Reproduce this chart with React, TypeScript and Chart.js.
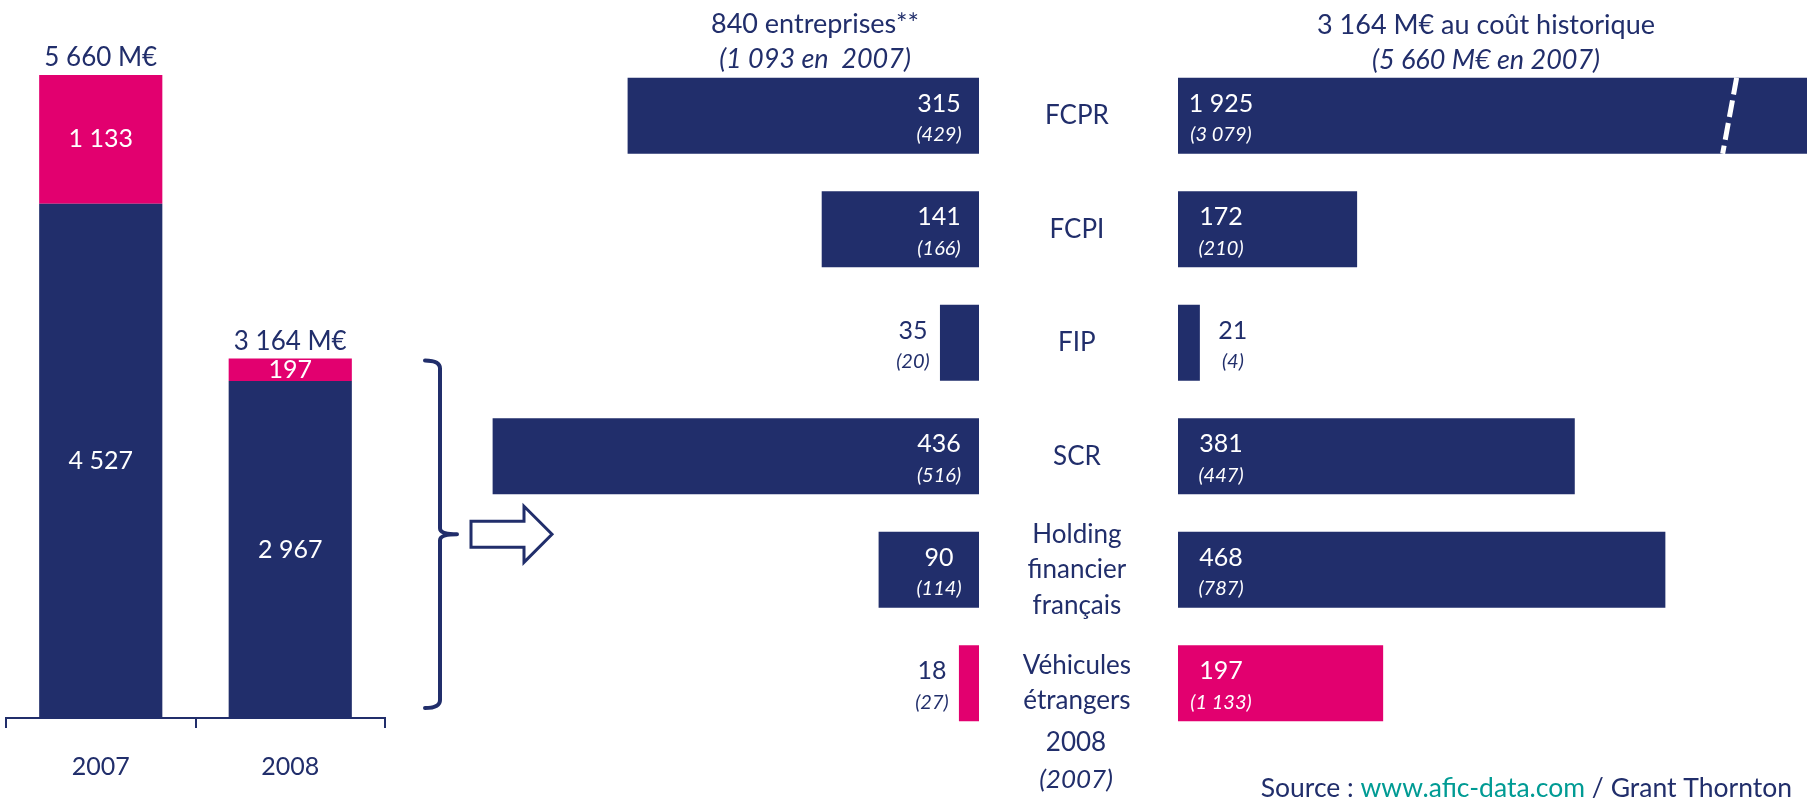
import React, { useEffect, useRef } from 'react';
import { Chart, registerables } from 'chart.js';

Chart.register(...registerables);

const W = 1816;
const H = 799;
const NAVY = '#212E6B';
const PINK = '#E2006F';
const TEAL = '#009B94';
const FONT = 'Lato';

// ---- data ----
const years = ['2007', '2008'];
const domesticAmounts = [4527, 2967];
const foreignAmounts = [1133, 197];

const vehicleTypes = [
  ['FCPR'],
  ['FCPI'],
  ['FIP'],
  ['SCR'],
  ['Holding', 'financier', 'français'],
  ['Véhicules', 'étrangers'],
];
const foreignFlags = [false, false, false, false, false, true];
const companies2008 = [315, 141, 35, 436, 90, 18];
const companies2007 = [429, 166, 20, 516, 114, 27];
const amounts2008 = [1925, 172, 21, 381, 468, 197];
const amounts2007 = [3079, 210, 4, 447, 787, 1133];

const companiesTitle = ['840 entreprises**', '(1 093 en  2007)'];
const amountsTitle = ['3 164 M€ au coût historique', '(5 660 M€ en 2007)'];
const keyLabels = ['2008', '(2007)'];
const sourceParts: [string, string][] = [
  ['Source : ', NAVY],
  ['www.afic-data.com', TEAL],
  [' / Grant Thornton', NAVY],
];

const fmt = (n: number) => String(n).replace(/\B(?=(\d{3})+(?!\d))/g, ' ');
const barColors = foreignFlags.map((f) => (f ? PINK : NAVY));

Chart.defaults.font.family = FONT;

// ---- plugins ----
const stackPlugin = {
  id: 'stackPlugin',
  afterDatasetsDraw(chart: any) {
    const ctx = chart.ctx;
    ctx.save();
    ctx.textAlign = 'center';
    ctx.textBaseline = 'middle';
    ctx.font = `25px ${FONT}`;
    chart.data.datasets.forEach((ds: any, di: number) => {
      const meta = chart.getDatasetMeta(di);
      meta.data.forEach((bar: any, i: number) => {
        ctx.fillStyle = '#ffffff';
        ctx.fillText(fmt(ds.data[i]), bar.x, (bar.y + bar.base) / 2);
      });
    });
    ctx.font = `26px ${FONT}`;
    const topMeta = chart.getDatasetMeta(chart.data.datasets.length - 1);
    topMeta.data.forEach((bar: any, i: number) => {
      ctx.fillStyle = NAVY;
      ctx.fillText(`${fmt(domesticAmounts[i] + foreignAmounts[i])} M€`, bar.x, bar.y - 17);
    });

    // bracket
    const xs = chart.scales.x;
    const ys = chart.scales.y;
    const bx = xs.right + 55;
    const yTop = ys.getPixelForValue(domesticAmounts[1] + foreignAmounts[1]) + 2;
    const yBot = ys.getPixelForValue(0) - 10;
    const yMid = (yTop + yBot) / 2;
    ctx.strokeStyle = NAVY;
    ctx.lineWidth = 4;
    ctx.lineCap = 'round';
    ctx.lineJoin = 'round';
    ctx.beginPath();
    ctx.moveTo(bx - 15, yTop);
    ctx.quadraticCurveTo(bx, yTop, bx, yTop + 8);
    ctx.lineTo(bx, yMid - 6);
    ctx.quadraticCurveTo(bx, yMid, bx + 17, yMid);
    ctx.moveTo(bx + 17, yMid);
    ctx.quadraticCurveTo(bx, yMid, bx, yMid + 6);
    ctx.lineTo(bx, yBot - 8);
    ctx.quadraticCurveTo(bx, yBot, bx - 15, yBot);
    ctx.stroke();

    // hollow arrow
    const ax = bx + 31;
    ctx.beginPath();
    ctx.moveTo(ax, yMid - 13);
    ctx.lineTo(ax + 53, yMid - 13);
    ctx.lineTo(ax + 53, yMid - 28);
    ctx.lineTo(ax + 81, yMid);
    ctx.lineTo(ax + 53, yMid + 28);
    ctx.lineTo(ax + 53, yMid + 13);
    ctx.lineTo(ax, yMid + 13);
    ctx.closePath();
    ctx.fillStyle = '#ffffff';
    ctx.fill();
    ctx.lineWidth = 3;
    ctx.lineJoin = 'miter';
    ctx.stroke();
    ctx.restore();
  },
};

const companiesPlugin = {
  id: 'companiesPlugin',
  afterDatasetsDraw(chart: any) {
    const ctx = chart.ctx;
    ctx.save();
    ctx.textAlign = 'center';
    ctx.textBaseline = 'middle';
    const meta = chart.getDatasetMeta(0);
    meta.data.forEach((bar: any, i: number) => {
      const width = bar.base - bar.x;
      const inside = width > 60;
      const cx = inside ? bar.base - 40 : bar.x - 27;
      ctx.fillStyle = inside ? '#ffffff' : NAVY;
      ctx.font = `25px ${FONT}`;
      ctx.fillText(fmt(companies2008[i]), cx, bar.y - 12);
      ctx.font = `italic 20px ${FONT}`;
      ctx.fillText(`(${fmt(companies2007[i])})`, cx, bar.y + 19);
    });
    const tx = chart.chartArea.right - 164;
    ctx.fillStyle = NAVY;
    ctx.font = `27px ${FONT}`;
    ctx.fillText(companiesTitle[0], tx, 24);
    ctx.font = `italic 27px ${FONT}`;
    ctx.fillText(companiesTitle[1], tx, 59);
    ctx.restore();
  },
};

const amountsPlugin = {
  id: 'amountsPlugin',
  afterDatasetsDraw(chart: any) {
    const ctx = chart.ctx;
    const xs = chart.scales.x;
    const ys = chart.scales.y;
    const area = chart.chartArea;
    ctx.save();
    const meta = chart.getDatasetMeta(0);
    meta.data.forEach((bar: any, i: number) => {
      // broken-bar marker when the value runs past the axis
      if (amounts2008[i] > xs.max) {
        const xv = xs.getPixelForValue(xs.max * 0.877);
        const h = bar.height / 2;
        ctx.save();
        ctx.strokeStyle = '#ffffff';
        ctx.lineWidth = 5;
        ctx.setLineDash([17, 6]);
        ctx.beginPath();
        ctx.moveTo(xv + 7, bar.y - h);
        ctx.lineTo(xv - 7, bar.y + h);
        ctx.stroke();
        ctx.restore();
      }
      const right = Math.min(bar.x, area.right);
      const width = right - bar.base;
      const inside = width > 60;
      const cx = inside ? bar.base + 43 : right + 33;
      ctx.textAlign = 'center';
      ctx.textBaseline = 'middle';
      ctx.fillStyle = inside ? '#ffffff' : NAVY;
      ctx.font = `25px ${FONT}`;
      ctx.fillText(fmt(amounts2008[i]), cx, bar.y - 12);
      ctx.font = `italic 20px ${FONT}`;
      ctx.fillText(`(${fmt(amounts2007[i])})`, cx, bar.y + 19);
    });

    ctx.textAlign = 'center';
    ctx.textBaseline = 'middle';
    ctx.fillStyle = NAVY;
    const tx = area.left + 308;
    ctx.font = `27px ${FONT}`;
    ctx.fillText(amountsTitle[0], tx, 25);
    ctx.font = `italic 27px ${FONT}`;
    ctx.fillText(amountsTitle[1], tx, 60);

    const kx = ys.right - 102;
    ctx.font = `26px ${FONT}`;
    ctx.fillText(keyLabels[0], kx, area.bottom + 3);
    ctx.font = `italic 26px ${FONT}`;
    ctx.fillText(keyLabels[1], kx, area.bottom + 40);

    // source line
    ctx.font = `26.5px ${FONT}`;
    ctx.textAlign = 'left';
    const total = sourceParts.reduce((s, [t]) => s + ctx.measureText(t).width, 0);
    let sx = area.right - 15 - total;
    sourceParts.forEach(([t, c]) => {
      ctx.fillStyle = c;
      ctx.fillText(t, sx, 788);
      sx += ctx.measureText(t).width;
    });
    ctx.restore();
  },
};

function useChart(build: (canvas: HTMLCanvasElement) => Chart) {
  const ref = useRef<HTMLCanvasElement | null>(null);
  useEffect(() => {
    if (!ref.current) return;
    const chart = build(ref.current);
    return () => chart.destroy();
  }, []);
  return ref;
}

const canvasStyle: React.CSSProperties = {
  position: 'absolute',
  left: 0,
  top: 0,
  width: W,
  height: H,
  display: 'block',
};

function TotalsChart() {
  const ref = useChart(
    (canvas) =>
      new Chart(canvas, {
        type: 'bar',
        data: {
          labels: years,
          datasets: [
            { label: 'Hors véhicules étrangers', data: domesticAmounts, backgroundColor: NAVY, stack: 's' },
            { label: 'Véhicules étrangers', data: foreignAmounts, backgroundColor: PINK, stack: 's' },
          ],
        },
        options: {
          animation: false,
          responsive: false,
          events: [],
          layout: { padding: { left: 6, right: W - 385, top: 0, bottom: 0 } },
          plugins: { legend: { display: false }, tooltip: { enabled: false } },
          datasets: { bar: { categoryPercentage: 1, barPercentage: 0.65 } } as any,
          scales: {
            x: {
              stacked: true,
              grid: {
                display: true,
                drawOnChartArea: false,
                drawTicks: true,
                tickLength: 10,
                offset: true,
                color: NAVY,
                lineWidth: 2,
              },
              border: { display: true, color: NAVY, width: 2 },
              ticks: { color: NAVY, font: { family: FONT, size: 25 }, padding: 24 },
              afterFit: (s: any) => {
                s.height = 81;
              },
            },
            y: { stacked: true, display: false, min: 0, max: 6320 },
          },
        },
        plugins: [stackPlugin],
      })
  );
  return <canvas ref={ref} width={W} height={H} style={canvasStyle} />;
}

function CompaniesChart() {
  const ref = useChart(
    (canvas) =>
      new Chart(canvas, {
        type: 'bar',
        data: {
          labels: vehicleTypes as any,
          datasets: [{ label: 'Entreprises 2008', data: companies2008, backgroundColor: barColors }],
        },
        options: {
          indexAxis: 'y',
          animation: false,
          responsive: false,
          events: [],
          layout: { padding: { left: 477, right: W - 979, top: 59, bottom: 59 } },
          plugins: { legend: { display: false }, tooltip: { enabled: false } },
          datasets: { bar: { categoryPercentage: 1, barPercentage: 0.67 } } as any,
          scales: {
            x: { display: false, reverse: true, min: 0, max: 450 },
            y: { display: false },
          },
        },
        plugins: [companiesPlugin],
      })
  );
  return <canvas ref={ref} width={W} height={H} style={canvasStyle} />;
}

function AmountsChart() {
  const ref = useChart(
    (canvas) =>
      new Chart(canvas, {
        type: 'bar',
        data: {
          labels: vehicleTypes as any,
          datasets: [{ label: 'Montants 2008', data: amounts2008, backgroundColor: barColors }],
        },
        options: {
          indexAxis: 'y',
          animation: false,
          responsive: false,
          events: [],
          layout: { padding: { left: 970, right: 9, top: 59, bottom: 59 } },
          plugins: { legend: { display: false }, tooltip: { enabled: false } },
          datasets: { bar: { categoryPercentage: 1, barPercentage: 0.67 } } as any,
          scales: {
            x: { display: false, min: 0, max: 604 },
            y: {
              position: 'left',
              grid: { display: false, drawTicks: false },
              border: { display: false },
              ticks: {
                crossAlign: 'center',
                color: NAVY,
                font: { family: FONT, size: 26, lineHeight: 1.36 },
                padding: 47,
              },
              afterFit: (s: any) => {
                s.width = 208;
                s.paddingTop = 0;
                s.paddingBottom = 0;
              },
            },
          },
        },
        plugins: [amountsPlugin],
      })
  );
  return <canvas ref={ref} width={W} height={H} style={canvasStyle} />;
}

export default function App() {
  useEffect(() => {
    document.body.style.margin = '0';
  }, []);
  return (
    <div style={{ position: 'relative', width: W, height: H, background: '#ffffff', overflow: 'hidden' }}>
      <TotalsChart />
      <CompaniesChart />
      <AmountsChart />
    </div>
  );
}
